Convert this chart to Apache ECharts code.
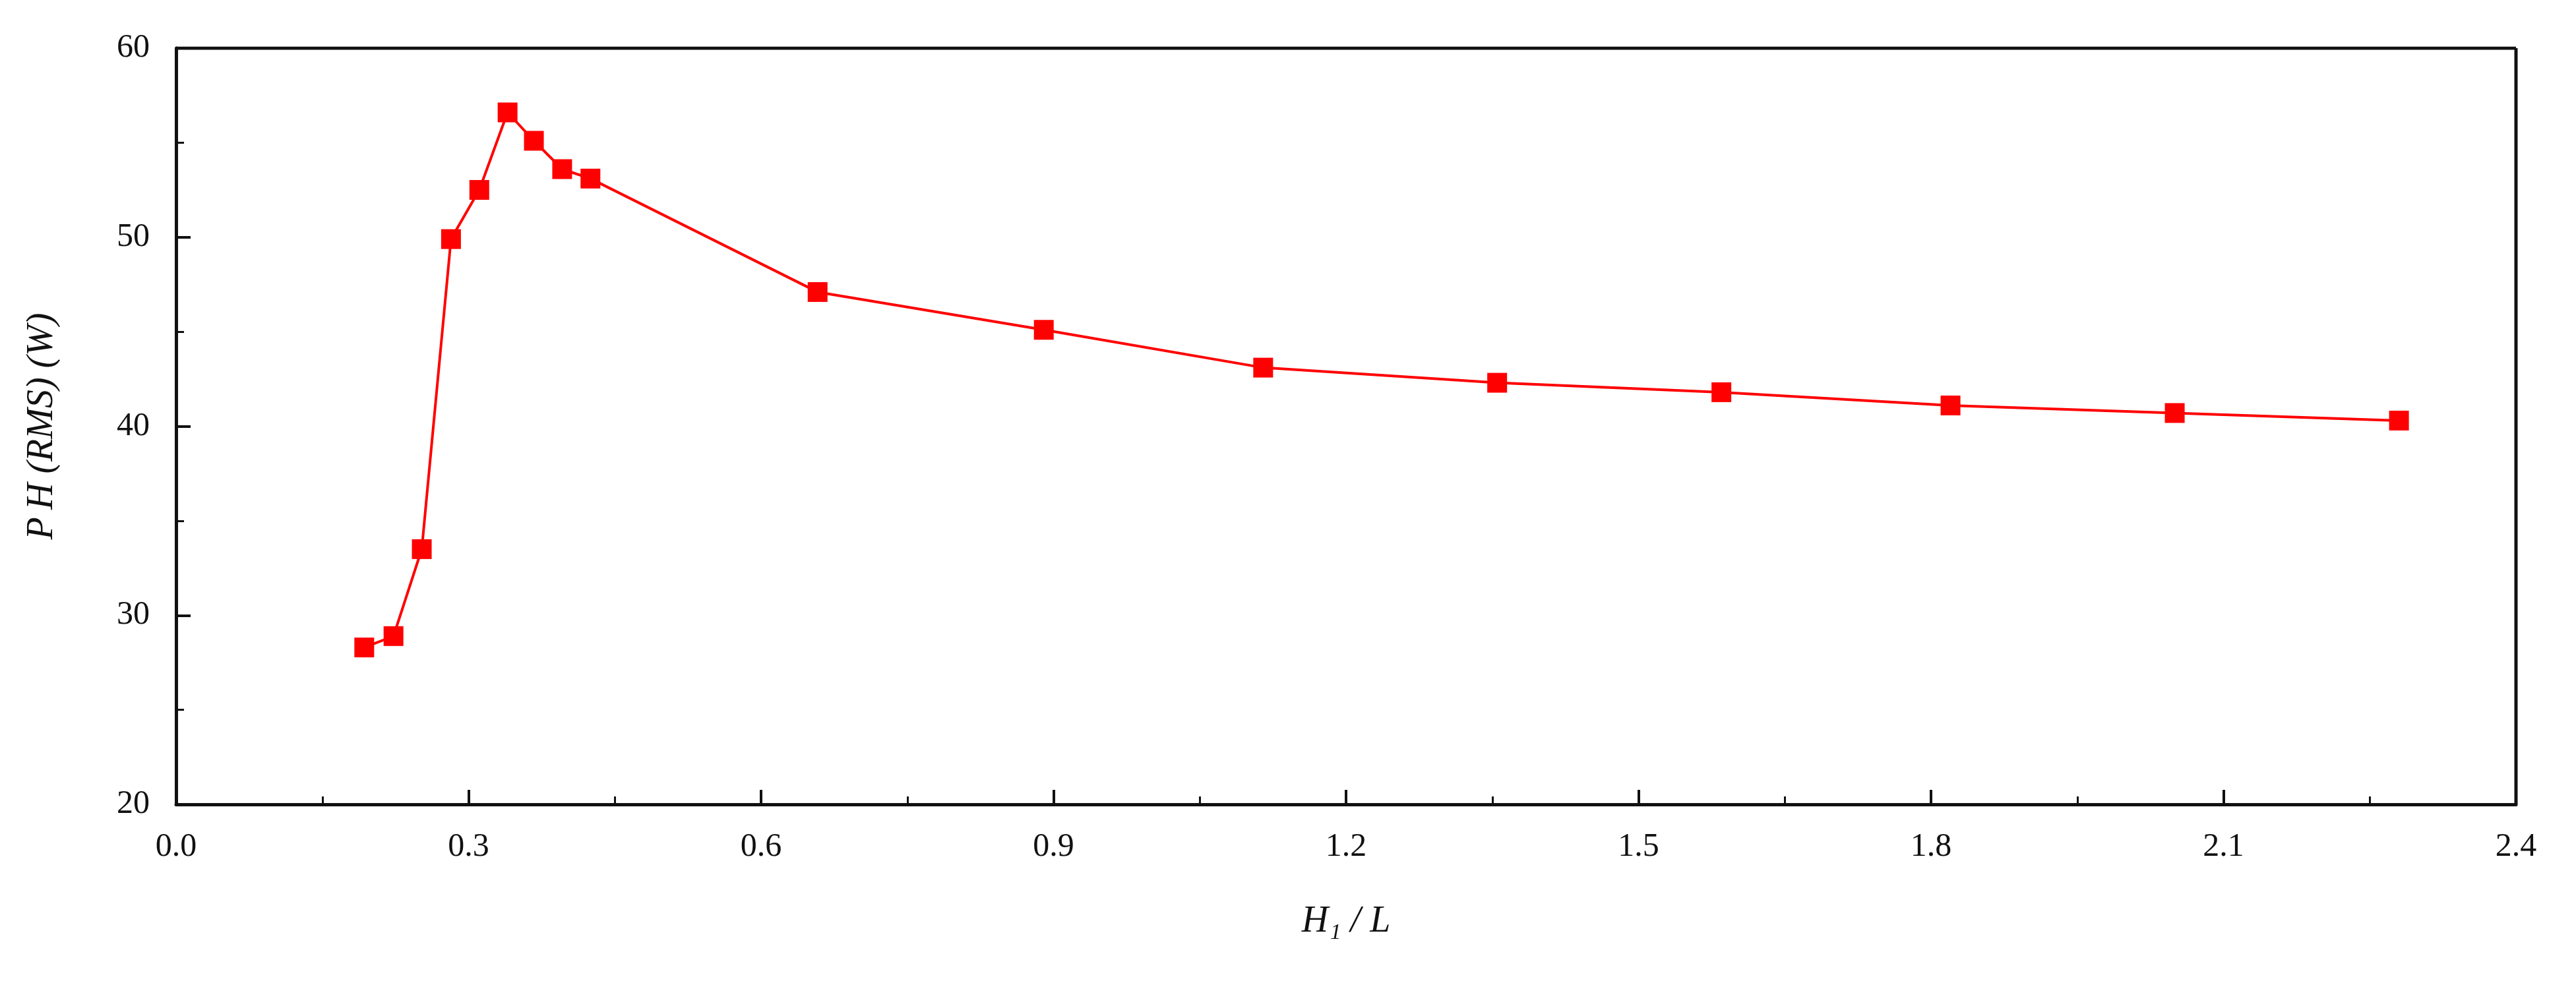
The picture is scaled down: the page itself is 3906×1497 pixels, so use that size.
<!DOCTYPE html><html><head><meta charset="utf-8"><script src="https://cdn.jsdelivr.net/npm/echarts@6/dist/echarts.min.js"></script>
<style>html,body{margin:0;background:#fff}#c{width:3906px;height:1497px}</style></head><body><div id="c"></div><script>
const xValues=[0.193,0.223,0.252,0.282,0.311,0.340,0.367,0.396,0.425,0.658,0.89,1.115,1.355,1.585,1.82,2.05,2.28];
const yValues=[28.3,28.9,33.5,49.9,52.5,56.6,55.1,53.6,53.1,47.1,45.1,43.1,42.3,41.8,41.1,40.7,40.3];
const xTicks=[0,0.3,0.6,0.9,1.2,1.5,1.8,2.1,2.4];
const yTicks=[20,30,40,50,60];
const ax={color:'#111',fontFamily:'Liberation Serif',fontSize:50};
const c=echarts.init(document.getElementById('c'));
c.setOption({animation:false,
grid:{left:267,right:91,top:73,bottom:277},
xAxis:{type:'value',min:0,max:2.4,interval:0.3,
 name:'H\u2081 / L',nameLocation:'middle',nameGap:150,nameTextStyle:{fontFamily:'Liberation Serif',fontSize:56,fontStyle:'italic',color:'#111'},
 axisLine:{lineStyle:{color:'#111',width:5}},axisTick:{inside:true,length:22,lineStyle:{color:'#111',width:4}},
 minorTick:{show:true,splitNumber:2,length:12,lineStyle:{color:'#111',width:3}},
 axisLabel:Object.assign({margin:40,formatter:v=>v.toFixed(1)},ax),splitLine:{show:false}},
yAxis:{type:'value',min:20,max:60,interval:10,
 name:'P\u2009H (RMS) (W)',nameLocation:'middle',nameGap:175,nameTextStyle:{fontFamily:'Liberation Serif',fontSize:56,fontStyle:'italic',color:'#111'},
 axisLine:{lineStyle:{color:'#111',width:5}},axisTick:{inside:true,length:22,lineStyle:{color:'#111',width:4}},
 minorTick:{show:true,splitNumber:2,length:12,lineStyle:{color:'#111',width:3}},
 axisLabel:Object.assign({margin:40},ax),splitLine:{show:false}},
series:[{type:'line',data:xValues.map((x,i)=>[x,yValues[i]]),symbol:'rect',symbolSize:30,
 lineStyle:{color:'#ff0000',width:4},itemStyle:{color:'#ff0000'}},
 {type:'line',data:[[0,60],[2.4,60]],symbol:'none',lineStyle:{color:'#111',width:5},silent:true},
 {type:'line',data:[[2.4,20],[2.4,60]],symbol:'none',lineStyle:{color:'#111',width:5},silent:true}]
});
</script></body></html>
